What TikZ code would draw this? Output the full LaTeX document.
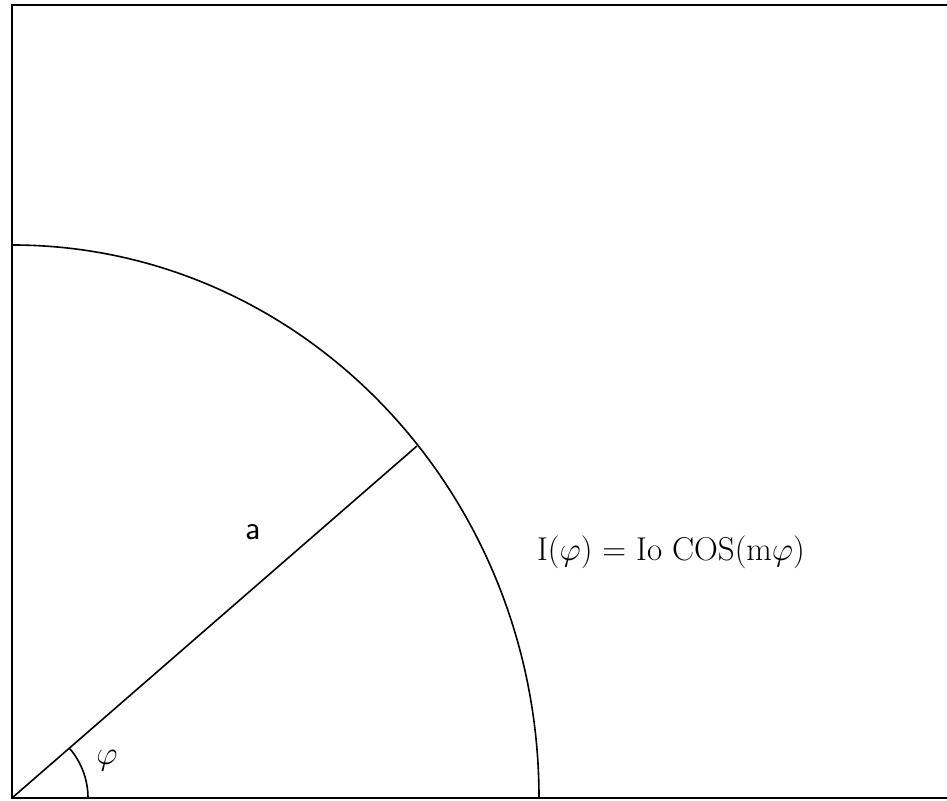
\documentclass[tikz,border=0pt]{standalone}
\usepackage{fontspec}
\newcommand{\bigphi}{\scalebox{1.33}{\(\varphi\)}}
\begin{document}
\begin{tikzpicture}[x=1pt,y=1pt,line width=1.6pt]
\useasboundingbox (-12,-2) rectangle (935,798);
\coordinate (O) at (0,0);
\coordinate (tl) at (0,793);
\coordinate (tr) at (935,793);
\coordinate (br) at (935,0);
\coordinate (A) at (405,352);
\draw (br)--(O)--(tl)--(tr);

\draw (0,553) arc[start angle=90,end angle=0,x radius=527,y radius=553];
\draw (O)--(A);
\draw (76,0) arc[start angle=0,end angle=41,radius=76];

\node (phi) at (95,37) {\fontsize{24.88}{30}\selectfont\bigphi};
\node (a) at (241,266) {\fontsize{34}{38}\selectfont\sffamily a};
\node (eq) at (659,246) {\fontsize{33}{38}\selectfont I(\bigphi) = Io COS(m\bigphi)};
\end{tikzpicture}
\end{document}
